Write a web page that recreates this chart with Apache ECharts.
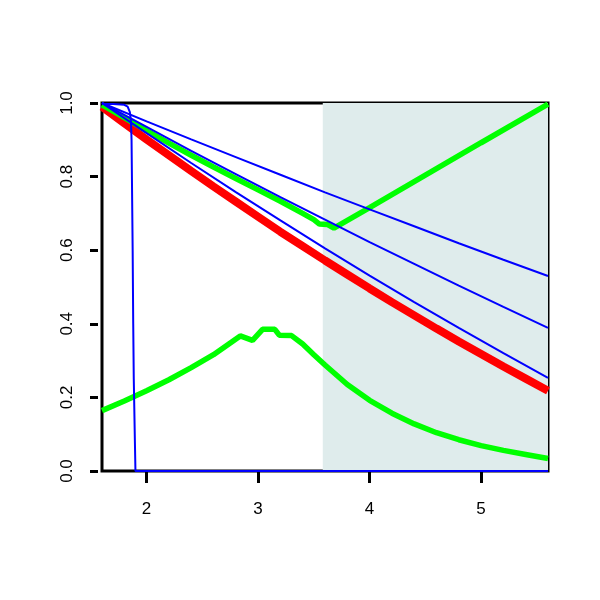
<!DOCTYPE html>
<html>
<head>
<meta charset="utf-8">
<script src="https://cdn.jsdelivr.net/npm/echarts@6/dist/echarts.min.js"></script>
<style>html,body{margin:0;padding:0;background:#fff;}#c{width:600px;height:600px;}</style>
</head>
<body>
<div id="c"></div>
<script>
// ---- data ----
const xTickValues = [2, 3, 4, 5];
const shadeRange = [3.58, 5.6];

const blueStepX = [1.6, 1.7, 1.8, 1.83, 1.85, 1.86, 1.865, 1.875, 1.88, 1.885, 1.895, 1.9, 5.6];
const blueStepY = [0.997, 0.997, 0.995, 0.99, 0.975, 0.95, 0.9, 0.6, 0.4, 0.25, 0.08, 0.0, 0.0];

const blueLinesX = [1.6, 2.0, 2.4, 2.8, 3.2, 3.6, 4.0, 4.4, 4.8, 5.2, 5.6];
const blueA = [1.0, 0.950, 0.901, 0.853, 0.805, 0.757, 0.711, 0.665, 0.619, 0.574, 0.53];
const blueB = [1.0, 0.935, 0.870, 0.807, 0.744, 0.683, 0.622, 0.563, 0.504, 0.446, 0.389];
const blueC = [1.0, 0.918, 0.837, 0.758, 0.681, 0.605, 0.531, 0.459, 0.389, 0.32, 0.253];

const redX = [1.6, 1.8, 2.0, 2.2, 2.4, 2.6, 2.8, 3.0, 3.2, 3.4, 3.6, 3.8, 4.0, 4.2, 4.4, 4.6, 4.8, 5.0, 5.2, 5.4, 5.6];
const redY = [0.99, 0.945, 0.901, 0.858, 0.815, 0.773, 0.732, 0.691, 0.65, 0.611, 0.572, 0.534, 0.496, 0.459, 0.423, 0.387, 0.352, 0.318, 0.284, 0.251, 0.218];

const greenUpX = [1.6, 1.8, 2.0, 2.2, 2.4, 2.6, 2.8, 3.0, 3.2, 3.4, 3.5, 3.55, 3.62, 3.68, 4.0, 4.5, 5.0, 5.6];
const greenUpY = [0.995, 0.96, 0.925, 0.891, 0.858, 0.826, 0.795, 0.764, 0.733, 0.70, 0.683, 0.671, 0.67, 0.66, 0.716, 0.804, 0.892, 0.997];

const greenLoX = [1.6, 1.8, 2.0, 2.2, 2.4, 2.6, 2.84, 2.95, 3.04, 3.15, 3.19, 3.3, 3.4, 3.5, 3.6, 3.8, 4.0, 4.2, 4.4, 4.6, 4.8, 5.0, 5.2, 5.4, 5.6];
const greenLoY = [0.164, 0.19, 0.218, 0.248, 0.281, 0.316, 0.367, 0.355, 0.385, 0.385, 0.369, 0.368, 0.345, 0.316, 0.288, 0.235, 0.192, 0.157, 0.128, 0.104, 0.085, 0.069, 0.056, 0.045, 0.034];

// ---- build ----
const zip = (xs, ys) => xs.map((x, i) => [x, ys[i]]);
const FONT = 'Liberation Sans';

function line(data, color, width, extra) {
  return Object.assign({
    type: 'line', data: data, showSymbol: false, symbol: 'none', smooth: false,
    lineStyle: { color: color, width: width }, animation: false, silent: true
  }, extra || {});
}

const chart = echarts.init(document.getElementById('c'), null, { renderer: 'canvas' });
chart.setOption({
  animation: false,
  backgroundColor: '#ffffff',
  textStyle: { fontFamily: FONT, fontSize: 17, color: '#000' },
  grid: { left: 102, right: 52, top: 103, bottom: 129, show: true, borderColor: '#000', borderWidth: 3, backgroundColor: 'transparent' },
  xAxis: {
    type: 'value', min: 1.6, max: 5.6,
    axisLine: { show: false },
    splitLine: { show: false },
    axisTick: { show: true, length: 12, lineStyle: { color: '#000', width: 3 }, customValues: xTickValues },
    axisLabel: { color: '#000', fontFamily: FONT, fontSize: 17, margin: 28, customValues: xTickValues, formatter: v => String(v) },
    offset: 2
  },
  yAxis: {
    type: 'value', min: 0, max: 1, interval: 0.2,
    axisLine: { show: false },
    splitLine: { show: false },
    axisTick: { show: true, length: 8, lineStyle: { color: '#000', width: 3 } },
    axisLabel: { color: '#000', fontFamily: FONT, fontSize: 17, margin: 22, rotate: 90, formatter: v => v.toFixed(1) },
    offset: 4
  },
  series: [
    line([[1.6, 0], [5.6, 0]], 'transparent', 0, {
      markArea: { silent: true, itemStyle: { color: '#dfecec' }, data: [[{ xAxis: shadeRange[0], yAxis: 0 }, { xAxis: shadeRange[1], yAxis: 1 }]] }
    }),
    line(zip(redX, redY), '#ff0000', 8),
    line(zip(greenUpX, greenUpY), '#00ff00', 5.5),
    line(zip(greenLoX, greenLoY), '#00ff00', 5.5),
    line(zip(blueLinesX, blueA), '#0000ff', 2),
    line(zip(blueLinesX, blueB), '#0000ff', 2),
    line(zip(blueLinesX, blueC), '#0000ff', 2),
    line(zip(blueStepX, blueStepY), '#0000ff', 2)
  ]
});
</script>
</body>
</html>
